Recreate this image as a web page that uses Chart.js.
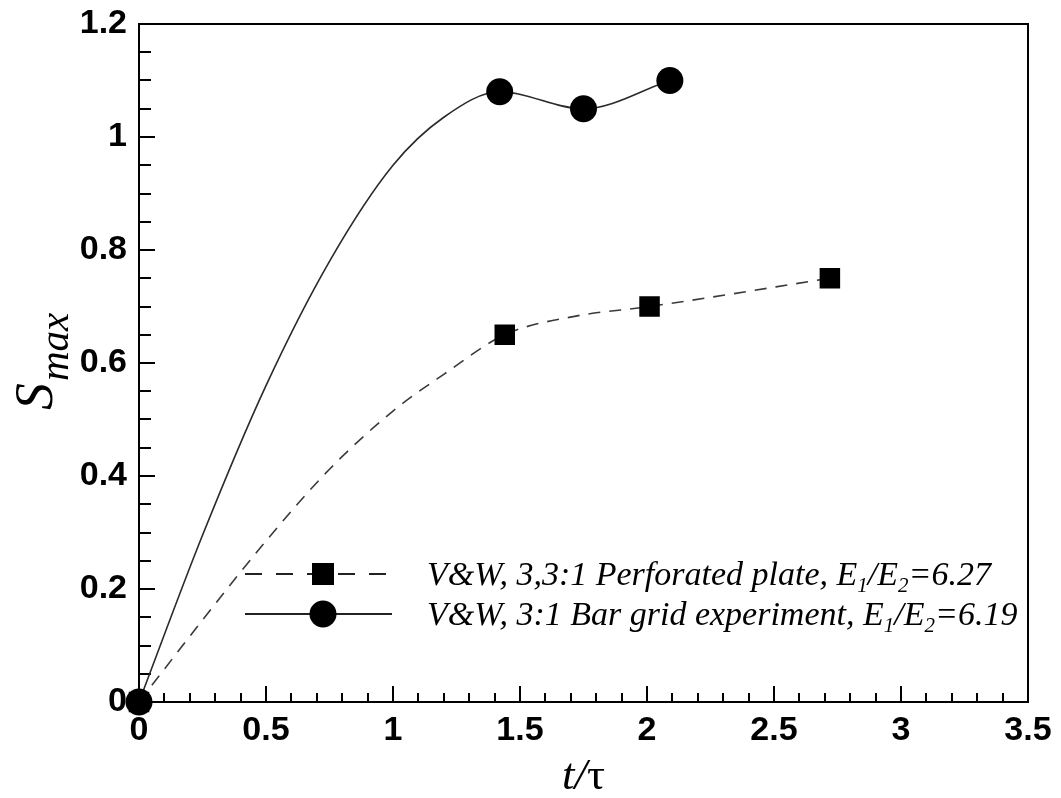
<!DOCTYPE html>
<html>
<head>
<meta charset="utf-8">
<script src="https://cdn.jsdelivr.net/npm/chart.js@4.4.0/dist/chart.umd.min.js"></script>
<style>
html, body { margin: 0; padding: 0; background: #fff; }
#wrap { width: 1061px; height: 798px; }
</style>
</head>
<body>
<div id="wrap"><canvas id="chart" width="1061" height="798"></canvas></div>
<script>
// measured points (markers)
const plateX = [0, 1.44, 2.01, 2.72];
const plateY = [0, 0.65, 0.70, 0.75];
const barX = [0, 1.42, 1.75, 2.09];
const barY = [0, 1.08, 1.05, 1.10];

// fitted curves, values
const plateCurveX = [0, 0.25, 0.5, 0.75, 1.0, 1.2, 1.44, 1.72, 2.01, 2.72];
const plateCurveY = [0, 0.145, 0.285, 0.412, 0.515, 0.58, 0.65, 0.683, 0.70, 0.75];
const barCurveX = [0, 0.25, 0.5, 0.75, 1.0, 1.2, 1.42, 1.75, 2.09];
const barCurveY = [0, 0.295, 0.56, 0.78, 0.95, 1.035, 1.08, 1.05, 1.10];

// axes
const xTickValues = [0, 0.5, 1, 1.5, 2, 2.5, 3, 3.5];
const yTickValues = [0, 0.2, 0.4, 0.6, 0.8, 1, 1.2];
const xMinorStep = 0.1;
const yMinorStep = 0.05;

// legend text, _n = subscript
const plateLabel = 'V&W, 3,3:1 Perforated plate, E_1/E_2=6.27';
const barLabel = 'V&W, 3:1 Bar grid experiment, E_1/E_2=6.19';

const SERIF = '"Liberation Serif", "Times New Roman", serif';
const SANS = '"Liberation Sans", Arial, sans-serif';

function toPoints(xs, ys) {
    return xs.map((x, i) => ({ x: x, y: ys[i] }));
}

function isMajor(v, list) {
    return list.some(t => Math.abs(t - v) < 1e-6);
}

// label with subscripts
function drawRichText(ctx, text, x, y, size) {
    const parts = text.split(/_(\d)/);
    let cx = x;
    parts.forEach((p, i) => {
        const sub = i % 2 === 1;
        ctx.font = 'italic ' + (sub ? Math.round(size * 0.62) : size) + 'px ' + SERIF;
        ctx.fillText(p, cx, sub ? y + size * 0.22 : y);
        cx += ctx.measureText(p).width;
    });
}

// frame, inward ticks, titles and legend
const framePlugin = {
    id: 'frame',
    beforeDatasetsDraw(chart) {
        const { ctx, chartArea: a, scales: { x, y } } = chart;
        ctx.save();
        ctx.strokeStyle = '#000';
        ctx.lineWidth = 2;
        ctx.strokeRect(a.left, a.top, a.right - a.left, a.bottom - a.top);

        ctx.beginPath();
        const nx = Math.round((x.max - x.min) / xMinorStep);
        for (let i = 1; i < nx; i++) {
            const v = x.min + i * xMinorStep;
            const px = Math.round(x.getPixelForValue(v));
            ctx.moveTo(px, a.bottom);
            ctx.lineTo(px, a.bottom - (isMajor(v, xTickValues) ? 16 : 9));
        }
        const ny = Math.round((y.max - y.min) / yMinorStep);
        for (let i = 1; i < ny; i++) {
            const v = y.min + i * yMinorStep;
            const py = Math.round(y.getPixelForValue(v));
            ctx.moveTo(a.left, py);
            ctx.lineTo(a.left + (isMajor(v, yTickValues) ? 16 : 12), py);
        }
        ctx.stroke();
        ctx.restore();
    },
    afterDraw(chart) {
        const { ctx, chartArea: a } = chart;
        ctx.save();
        ctx.fillStyle = '#000';
        ctx.textBaseline = 'alphabetic';
        ctx.textAlign = 'left';

        // x title: t/τ
        const xc = (a.left + a.right) / 2;
        ctx.font = 'italic 45px ' + SERIF;
        const w1 = ctx.measureText('t/').width;
        ctx.font = '45px ' + SERIF;
        const w2 = ctx.measureText('τ').width;
        const tx = xc - (w1 + w2) / 2;
        ctx.font = 'italic 45px ' + SERIF;
        ctx.fillText('t/', tx, 789);
        ctx.font = '45px ' + SERIF;
        ctx.fillText('τ', tx + w1, 789);

        // y title: S_max, rotated
        ctx.save();
        ctx.translate(52, 410);
        ctx.rotate(-Math.PI / 2);
        ctx.font = 'italic 54px ' + SERIF;
        ctx.fillText('S', 0, 0);
        const ws = ctx.measureText('S').width;
        ctx.font = 'italic 41px ' + SERIF;
        ctx.fillText('max', ws + 2, 16);
        ctx.restore();

        // legend
        const rows = [
            { y: 574, label: plateLabel, dash: [17, 14], shape: 'rect' },
            { y: 614, label: barLabel, dash: [], shape: 'circle' }
        ];
        rows.forEach(r => {
            ctx.strokeStyle = '#222';
            ctx.lineWidth = 2;
            ctx.setLineDash(r.dash);
            ctx.beginPath();
            ctx.moveTo(245, r.y);
            ctx.lineTo(392, r.y);
            ctx.stroke();
            ctx.setLineDash([]);
            ctx.fillStyle = '#000';
            ctx.beginPath();
            if (r.shape === 'rect') {
                ctx.rect(323 - 11, r.y - 11, 22, 22);
            } else {
                ctx.arc(323, r.y, 13.5, 0, Math.PI * 2);
            }
            ctx.fill();
            drawRichText(ctx, r.label, 427, r.y + 11, 34);
        });
        ctx.restore();
    }
};

new Chart(document.getElementById('chart'), {
    type: 'scatter',
    data: {
        datasets: [
            {
                label: 'bar markers',
                data: toPoints(barX, barY),
                pointStyle: 'circle',
                pointRadius: 13.5,
                pointBackgroundColor: '#000',
                pointBorderWidth: 0,
                showLine: false,
                clip: false,
                order: 0
            },
            {
                label: 'plate markers',
                data: toPoints(plateX, plateY),
                pointStyle: 'rect',
                pointRadius: 14.5,
                pointBackgroundColor: '#000',
                pointBorderWidth: 0,
                showLine: false,
                clip: false,
                order: 1
            },
            {
                label: 'bar curve',
                data: toPoints(barCurveX, barCurveY),
                showLine: true,
                pointRadius: 0,
                borderColor: '#2a2a2a',
                borderWidth: 1.6,
                cubicInterpolationMode: 'monotone',
                order: 2
            },
            {
                label: 'plate curve',
                data: toPoints(plateCurveX, plateCurveY),
                showLine: true,
                pointRadius: 0,
                borderColor: '#3a3a3a',
                borderWidth: 1.6,
                borderDash: [12, 9],
                cubicInterpolationMode: 'monotone',
                order: 3
            }
        ]
    },
    options: {
        responsive: false,
        animation: false,
        events: [],
        layout: {
            autoPadding: false,
            padding: { left: 0, top: 24, right: 33, bottom: 0 }
        },
        plugins: {
            legend: { display: false },
            tooltip: { enabled: false }
        },
        scales: {
            x: {
                type: 'linear',
                min: 0,
                max: 3.5,
                afterBuildTicks: s => { s.ticks = xTickValues.map(v => ({ value: v })); },
                afterFit: s => {
                    s.height = 96;
                    s.paddingLeft = 0;
                    s.paddingRight = 0;
                },
                grid: { display: false, drawTicks: false },
                border: { display: false },
                ticks: {
                    autoSkip: false,
                    maxRotation: 0,
                    padding: 8,
                    color: '#000',
                    font: { family: SANS, weight: 'bold', size: 34 },
                    callback: v => String(v)
                }
            },
            y: {
                type: 'linear',
                min: 0,
                max: 1.2,
                afterBuildTicks: s => { s.ticks = yTickValues.map(v => ({ value: v })); },
                afterFit: s => {
                    s.width = 139;
                    s.paddingTop = 0;
                    s.paddingBottom = 0;
                },
                grid: { display: false, drawTicks: false },
                border: { display: false },
                ticks: {
                    autoSkip: false,
                    padding: 12,
                    color: '#000',
                    font: { family: SANS, weight: 'bold', size: 34 },
                    callback: v => String(v)
                }
            }
        }
    },
    plugins: [framePlugin]
});
</script>
</body>
</html>
